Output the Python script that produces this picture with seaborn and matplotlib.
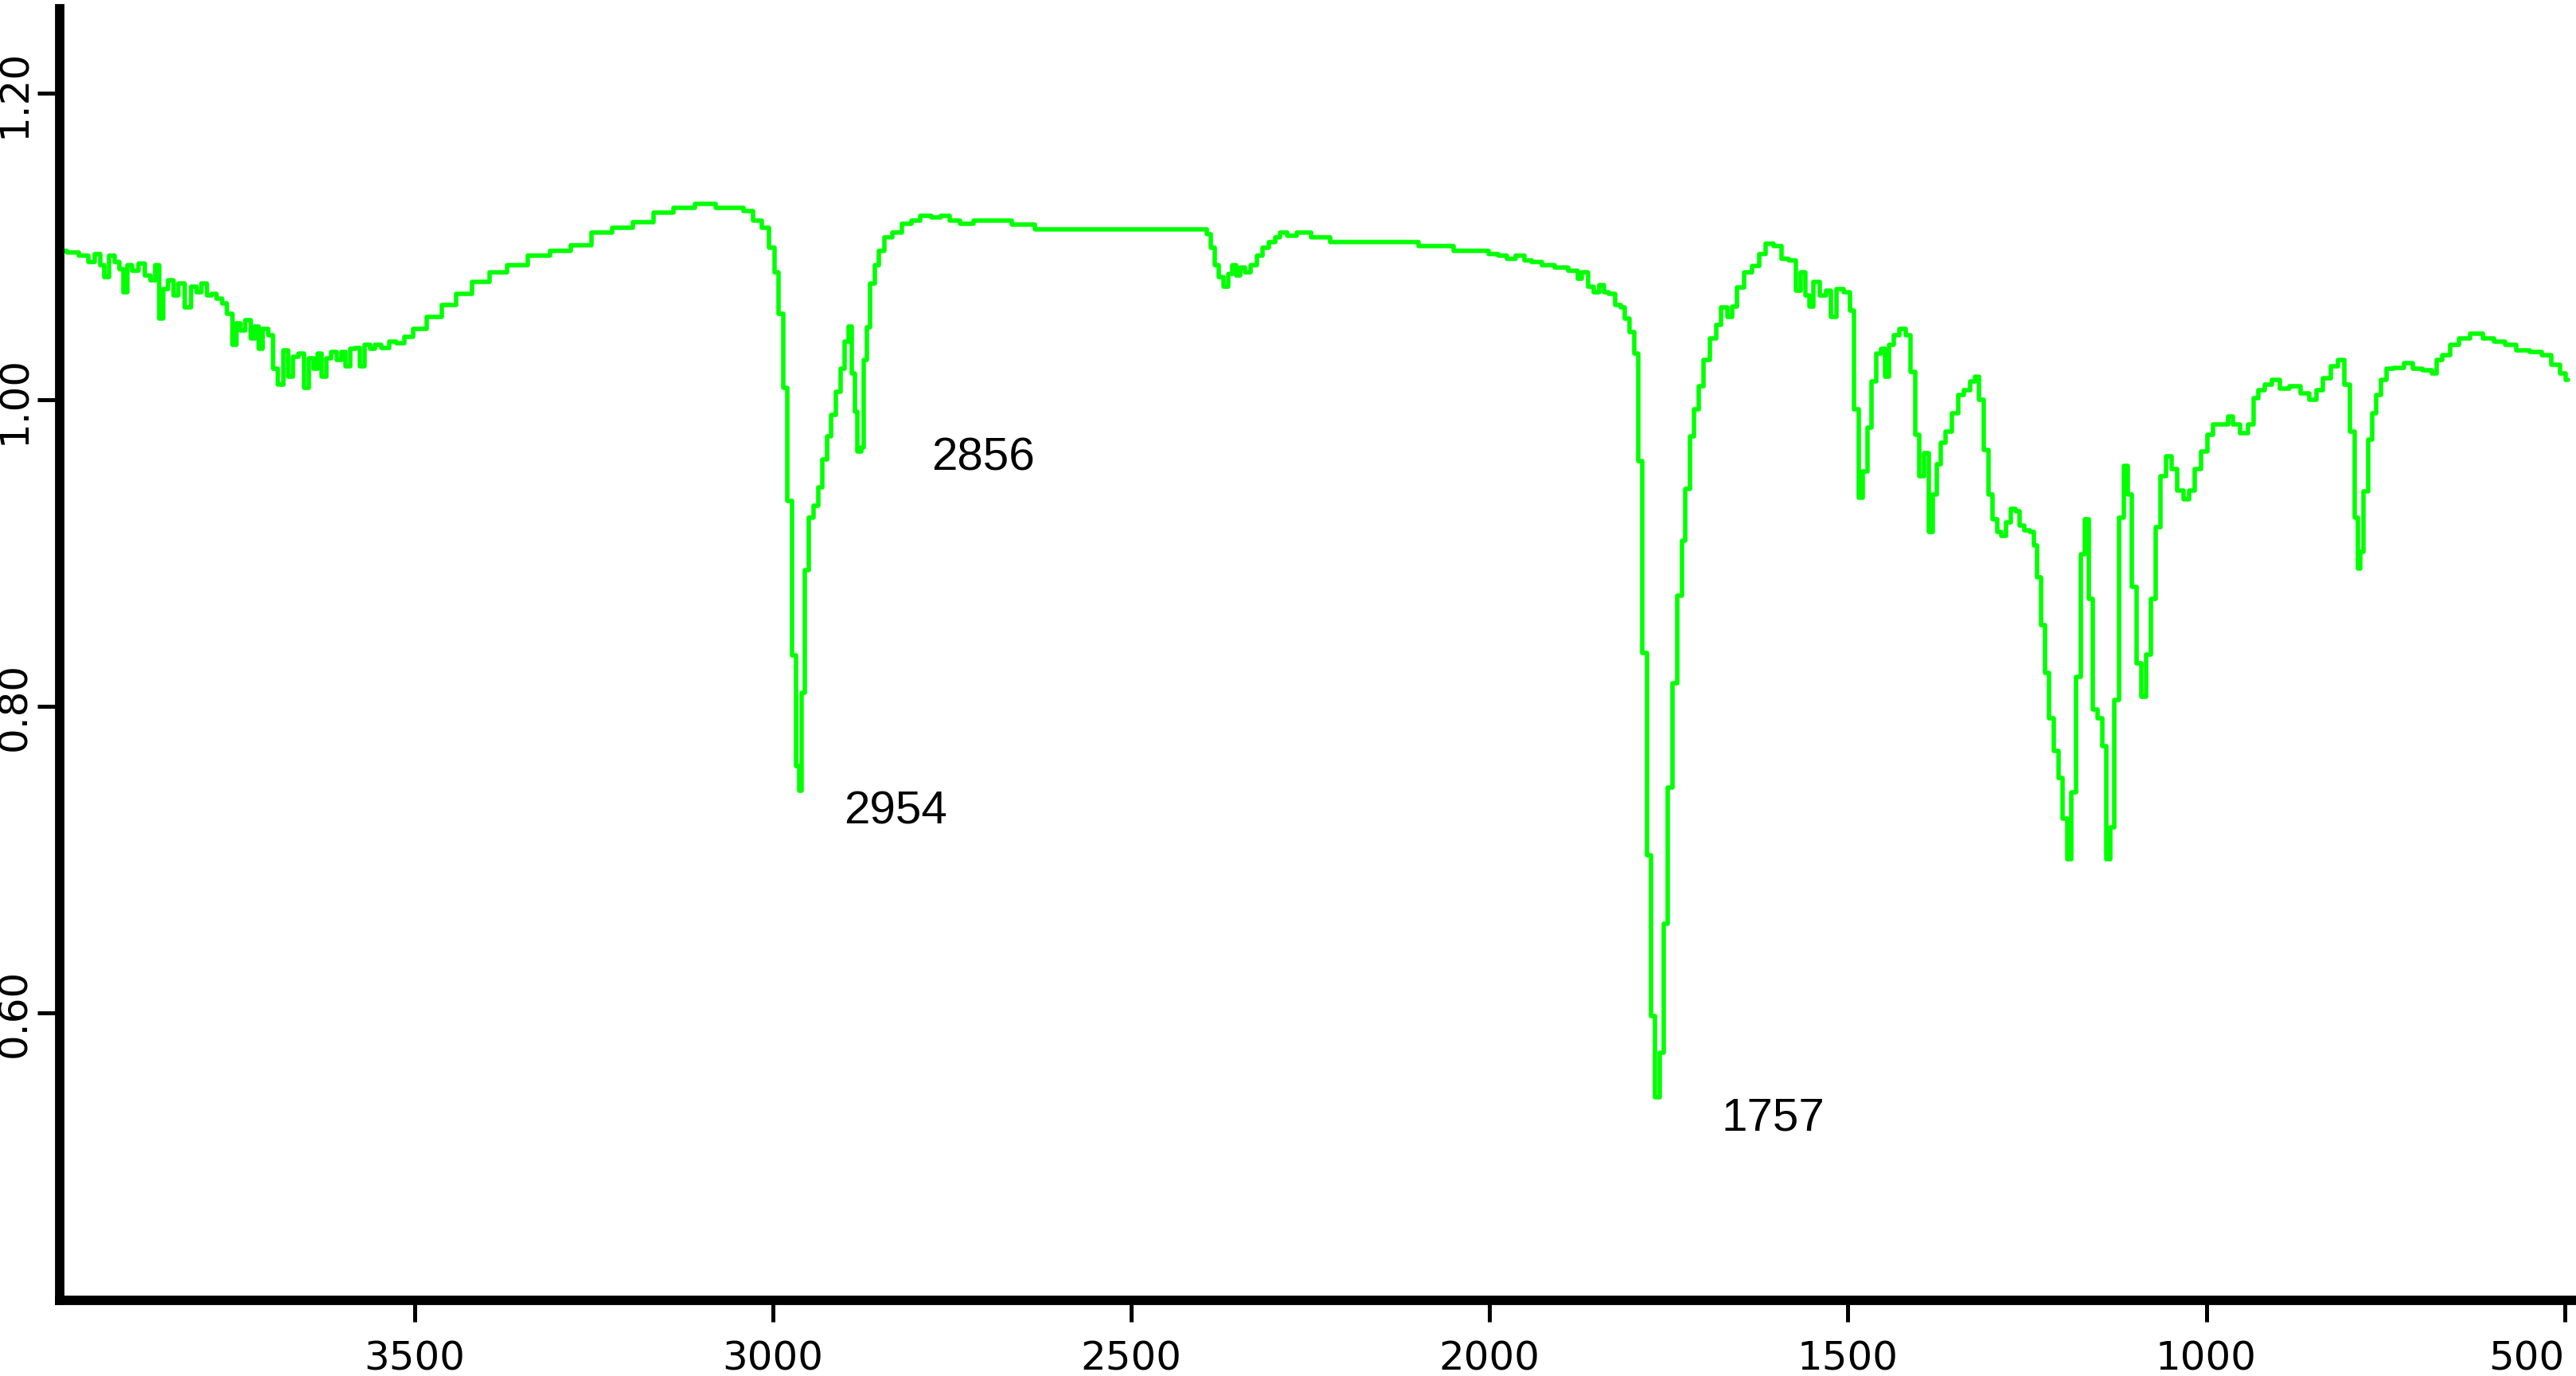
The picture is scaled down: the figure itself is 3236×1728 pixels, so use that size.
import matplotlib
matplotlib.use('Agg')
import matplotlib.pyplot as plt
from matplotlib.ticker import FormatStrFormatter
import seaborn as sns
import numpy as np

# IR spectrum (wavenumber in cm-1, transmittance)
wavenumber = [
    3995, 3975, 3961, 3950, 3942, 3936, 3930, 3922, 3915, 3908, 3904, 3898, 3890, 3880, 3872,
    3865, 3858, 3854, 3848, 3840, 3833, 3826, 3815, 3808, 3800, 3794, 3786, 3780, 3772, 3765,
    3758, 3751, 3746, 3740, 3733, 3725, 3720, 3715, 3708, 3701, 3694, 3687, 3680, 3673, 3666,
    3658, 3651, 3644, 3638, 3633, 3626, 3620, 3612, 3605, 3599, 3594, 3586, 3580, 3573, 3566,
    3558, 3552, 3540, 3530, 3520, 3509, 3494, 3473, 3452, 3431, 3409, 3381, 3360, 3325, 3296,
    3267, 3239, 3210, 3181, 3153, 3125, 3092, 3068, 3046, 3035, 3021, 3010, 3001, 2995, 2989,
    2983, 2976, 2970, 2965, 2961, 2958, 2953, 2947, 2940, 2934, 2928, 2921, 2916, 2909, 2903,
    2897, 2892, 2887, 2885, 2879, 2875, 2871, 2867, 2861, 2855, 2849, 2840, 2827, 2813, 2801,
    2787, 2771, 2760, 2746, 2731, 2709, 2679, 2654, 2616, 2524, 2397, 2393, 2386, 2381, 2374,
    2368, 2362, 2356, 2351, 2344, 2338, 2328, 2321, 2313, 2303, 2296, 2288, 2276, 2262, 2236,
    2209, 2100, 2098, 2053, 2048, 2003, 1999, 1978, 1973, 1954, 1949, 1934, 1919, 1900, 1880,
    1875, 1867, 1858, 1851, 1843, 1838, 1830, 1820, 1815, 1808, 1801, 1795, 1789, 1784, 1777,
    1772, 1766, 1760, 1754, 1748, 1742, 1735, 1729, 1724, 1717, 1712, 1705, 1697, 1688, 1680,
    1673, 1664, 1659, 1650, 1639, 1628, 1619, 1611, 1596, 1589, 1576, 1570, 1563, 1556, 1551,
    1545, 1534, 1527, 1520, 1512, 1499, 1495, 1488, 1482, 1476, 1470, 1464, 1457, 1451, 1446,
    1440, 1433, 1423, 1416, 1409, 1403, 1397, 1391, 1384, 1379, 1373, 1367, 1360, 1350, 1343,
    1333, 1325, 1320, 1314, 1307, 1301, 1295, 1289, 1283, 1276, 1270, 1262, 1258, 1250, 1243,
    1239, 1234, 1228, 1222, 1216, 1209, 1203, 1197, 1191, 1185, 1178, 1172, 1167, 1161, 1155,
    1148, 1142, 1136, 1131, 1125, 1119, 1112, 1107, 1100, 1094, 1087, 1080, 1075, 1067, 1060,
    1052, 1045, 1037, 1027, 1020, 1012, 1002, 995, 987, 973, 967, 958, 947, 936, 931,
    923, 914, 903, 892, 875, 862, 851, 842, 832, 821, 811, 803, 796, 790, 786,
    784, 778, 771, 766, 759, 753, 745, 732, 717, 706, 691, 680, 676, 665, 654,
    640, 623, 606, 591, 576, 558, 539, 525, 511, 502, 495,
]
transmittance = [
    1.097, 1.096, 1.094, 1.090, 1.095, 1.088, 1.080, 1.094, 1.090, 1.085, 1.070, 1.088, 1.084, 1.089, 1.081,
    1.078, 1.088, 1.053, 1.072, 1.078, 1.068, 1.076, 1.060, 1.074, 1.070, 1.076, 1.068, 1.069, 1.066, 1.063,
    1.056, 1.036, 1.050, 1.045, 1.052, 1.040, 1.048, 1.033, 1.046, 1.042, 1.020, 1.010, 1.032, 1.015, 1.028,
    1.030, 1.008, 1.027, 1.020, 1.030, 1.015, 1.027, 1.031, 1.026, 1.031, 1.022, 1.033, 1.034, 1.022, 1.036,
    1.033, 1.036, 1.034, 1.038, 1.037, 1.041, 1.046, 1.054, 1.062, 1.069, 1.077, 1.083, 1.088, 1.094, 1.097,
    1.101, 1.109, 1.112, 1.116, 1.122, 1.125, 1.128, 1.125, 1.125, 1.123, 1.117, 1.112, 1.099, 1.083, 1.056,
    1.008, 0.934, 0.833, 0.761, 0.745, 0.809, 0.889, 0.923, 0.931, 0.943, 0.961, 0.976, 0.990, 1.005, 1.020,
    1.038, 1.048, 1.017, 0.992, 0.966, 0.969, 1.026, 1.047, 1.076, 1.088, 1.097, 1.106, 1.109, 1.115, 1.117,
    1.120, 1.119, 1.120, 1.117, 1.115, 1.117, 1.117, 1.114, 1.111, 1.111, 1.111, 1.108, 1.099, 1.088, 1.080,
    1.074, 1.082, 1.088, 1.081, 1.086, 1.083, 1.088, 1.094, 1.099, 1.103, 1.106, 1.109, 1.107, 1.109, 1.106,
    1.103, 1.103, 1.100, 1.100, 1.097, 1.097, 1.095, 1.094, 1.092, 1.094, 1.091, 1.090, 1.088, 1.086, 1.084,
    1.079, 1.083, 1.074, 1.070, 1.075, 1.070, 1.069, 1.062, 1.060, 1.053, 1.044, 1.030, 0.960, 0.835, 0.703,
    0.598, 0.545, 0.574, 0.658, 0.747, 0.815, 0.872, 0.908, 0.942, 0.976, 0.994, 1.009, 1.026, 1.040, 1.049,
    1.060, 1.054, 1.061, 1.073, 1.083, 1.087, 1.095, 1.102, 1.100, 1.092, 1.091, 1.071, 1.083, 1.068, 1.061,
    1.077, 1.068, 1.071, 1.054, 1.072, 1.070, 1.058, 0.994, 0.936, 0.953, 0.982, 1.012, 1.030, 1.033, 1.015,
    1.036, 1.042, 1.046, 1.042, 1.018, 0.977, 0.950, 0.965, 0.914, 0.938, 0.958, 0.972, 0.979, 0.991, 1.003,
    1.006, 1.012, 1.015, 1.000, 0.967, 0.938, 0.922, 0.914, 0.911, 0.920, 0.929, 0.927, 0.918, 0.915, 0.914,
    0.905, 0.884, 0.853, 0.822, 0.792, 0.771, 0.753, 0.727, 0.700, 0.744, 0.819, 0.899, 0.922, 0.870, 0.798,
    0.792, 0.774, 0.700, 0.721, 0.804, 0.923, 0.957, 0.938, 0.878, 0.828, 0.806, 0.834, 0.870, 0.917, 0.950,
    0.963, 0.955, 0.941, 0.935, 0.941, 0.955, 0.966, 0.977, 0.984, 0.984, 0.989, 0.984, 0.978, 0.984, 1.001,
    1.006, 1.010, 1.013, 1.007, 1.009, 1.004, 1.000, 1.006, 1.014, 1.022, 1.026, 1.010, 0.979, 0.923, 0.890,
    0.901, 0.940, 0.974, 0.991, 1.003, 1.013, 1.020, 1.021, 1.024, 1.020, 1.019, 1.017, 1.026, 1.029, 1.036,
    1.040, 1.043, 1.040, 1.038, 1.036, 1.032, 1.031, 1.029, 1.023, 1.017, 1.013,
]

# peak labels and where they sit
peak_labels = ['2954', '2856', '1757']
peak_label_x = [2901, 2779, 1677]
peak_label_y = [0.731, 0.962, 0.531]

x_ticks = [3500, 3000, 2500, 2000, 1500, 1000, 500]
y_ticks = [0.60, 0.80, 1.00, 1.20]

sns.set_style('white')
plt.rcParams['font.family'] = ['DejaVu Sans']

fig = plt.figure(figsize=(32.37, 17.28), dpi=100)
ax = fig.add_axes([0.0232, 0.055, 0.9768, 0.9386])

sns.lineplot(x=wavenumber, y=transmittance, ax=ax, color='#00ff00',
             linewidth=4.0, drawstyle='steps-mid', estimator=None)

for lbl, lx, ly in zip(peak_labels, peak_label_x, peak_label_y):
    ax.text(lx, ly, lbl, ha='left', va='center', fontsize=42,
            family=['Liberation Sans', 'DejaVu Sans'], color='black')

ax.set_xlim(3995, 483)
ax.set_ylim(0.4125, 1.255)
ax.set_xticks(x_ticks)
ax.set_yticks(y_ticks)
ax.yaxis.set_major_formatter(FormatStrFormatter('%.2f'))
ax.set_xlabel('')
ax.set_ylabel('')

for side in ['top', 'right']:
    ax.spines[side].set_visible(False)
for side in ['left', 'bottom']:
    ax.spines[side].set_linewidth(8.5)
    ax.spines[side].set_color('black')

ax.tick_params(axis='x', direction='out', length=19.4, width=3.6, pad=16.5,
               labelsize=36, colors='black', bottom=True)
ax.tick_params(axis='y', direction='out', length=20, width=3.6, pad=3.6,
               labelsize=36, colors='black', labelrotation=90, left=True)
for t in ax.get_yticklabels():
    t.set_va('center')
# the last x label is pushed left so it stays inside the picture
ax.get_xticklabels()[-1].set_ha('right')

fig.savefig('out.png', dpi=100)
